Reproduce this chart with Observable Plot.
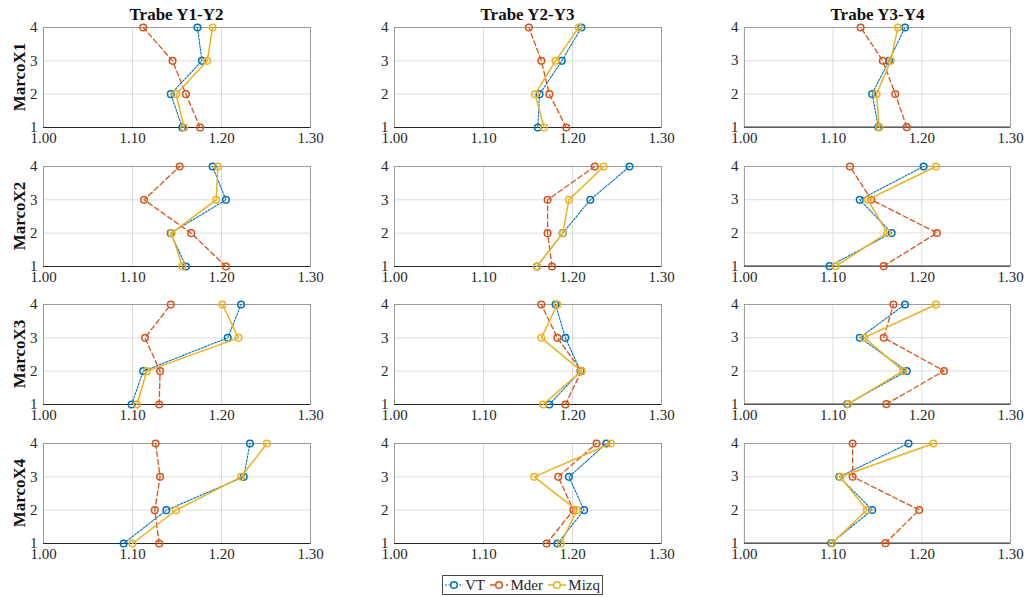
<!DOCTYPE html>
<html>
<head>
<meta charset="utf-8">
<script src="https://cdn.jsdelivr.net/npm/d3@7"></script>
<script src="https://cdn.jsdelivr.net/npm/@observablehq/plot@0.6"></script>
<style>
  html, body { margin: 0; padding: 0; background: #fff; }
  #root { position: relative; width: 1030px; height: 597px; font-family: "Liberation Serif", "Times New Roman", serif; color: #262626; }
  .panel { position: absolute; }
  .panel svg, .panel svg g, .panel svg text { font-family: "Liberation Serif", "Times New Roman", serif !important; font-size: 15px !important; }
  .title { position: absolute; font-weight: bold; font-size: 17px; color: #111; transform: translate(-50%, -50%); white-space: nowrap; }
  .rowlab { position: absolute; font-weight: bold; font-size: 17px; color: #111; transform: translate(-50%, -50%) rotate(-90deg); white-space: nowrap; }
  #legend { position: absolute; left: 442px; top: 575px; width: 161px; height: 20px; border: 1px solid #444; display: flex; align-items: center; justify-content: space-between; font-size: 15px; padding: 0 2px 0 1px; box-sizing: border-box; background: #fff; white-space: nowrap; font-family: "Liberation Serif", "Times New Roman", serif; }
  #legend .it { display: flex; align-items: center; }
  #legend svg { margin-right: 1px; }
</style>
</head>
<body>
<div id="root"></div>
<script>
// ---- data ----
const trabes = ["Trabe Y1-Y2", "Trabe Y2-Y3", "Trabe Y3-Y4"];
const marcos = ["MarcoX1", "MarcoX2", "MarcoX3", "MarcoX4"];
const niveles = [1, 2, 3, 4];
const seriesNames = ["VT", "Mder", "Mizq"];
const xTicks = [1.00, 1.10, 1.20, 1.30];
const yTicks = [1, 2, 3, 4];

// values per marco (rows) x trabe (cols), each listed for niveles 1..4
const VT = [
  [[1.156, 1.143, 1.178, 1.173], [1.161, 1.163, 1.188, 1.210], [1.151, 1.144, 1.163, 1.181]],
  [[1.160, 1.143, 1.205, 1.190], [1.160, 1.189, 1.220, 1.264], [1.096, 1.166, 1.130, 1.202]],
  [[1.099, 1.112, 1.207, 1.222], [1.174, 1.209, 1.192, 1.181], [1.116, 1.183, 1.130, 1.181]],
  [[1.090, 1.138, 1.225, 1.232], [1.183, 1.213, 1.196, 1.238], [1.098, 1.144, 1.107, 1.185]]
];
const Mder = [
  [[1.176, 1.160, 1.145, 1.112], [1.193, 1.174, 1.165, 1.151], [1.183, 1.170, 1.156, 1.131]],
  [[1.205, 1.166, 1.113, 1.153], [1.177, 1.172, 1.172, 1.225], [1.157, 1.217, 1.143, 1.119]],
  [[1.130, 1.131, 1.114, 1.143], [1.192, 1.210, 1.183, 1.165], [1.160, 1.225, 1.157, 1.168]],
  [[1.130, 1.125, 1.131, 1.126], [1.171, 1.201, 1.184, 1.227], [1.159, 1.197, 1.122, 1.122]]
];
const Mizq = [
  [[1.158, 1.149, 1.184, 1.190], [1.168, 1.158, 1.181, 1.207], [1.152, 1.149, 1.165, 1.173]],
  [[1.156, 1.144, 1.194, 1.196], [1.160, 1.189, 1.196, 1.235], [1.103, 1.161, 1.139, 1.216]],
  [[1.105, 1.116, 1.219, 1.201], [1.167, 1.210, 1.165, 1.183], [1.117, 1.179, 1.135, 1.216]],
  [[1.100, 1.149, 1.222, 1.251], [1.187, 1.205, 1.157, 1.243], [1.099, 1.138, 1.108, 1.213]]
];

// ---- styles ----
const colors = { VT: "#0072BD", Mder: "#D95319", Mizq: "#EDB120" };
const dashes = { VT: "2,1.5", Mder: "5,3", Mizq: null };
const widths = { VT: 1.1, Mder: 1.3, Mizq: 1.5 };
const seriesData = { VT, Mder, Mizq };

// layout
const frameLeft = [43, 394, 744];
const frameTop = [27, 166, 304, 443];
const frameW = 267, frameH = 100;
const mL = 32, mR = 20, mT = 10, mB = 26;

const root = document.getElementById("root");

function panel(r, c) {
  const marks = [
    Plot.gridX(xTicks.slice(1, 3), { stroke: "#dcdcdc", strokeOpacity: 1 }),
    Plot.gridY(yTicks.slice(1, 3), { stroke: "#dcdcdc", strokeOpacity: 1 }),
    Plot.frame({ stroke: "#9a9a9a" }),
    Plot.ruleY([1], { stroke: "#262626" }),
    Plot.axisX(xTicks, { tickFormat: d3.format(".2f"), tickSize: 0, tickPadding: 5, fontSize: 15, fill: "#262626" }),
    Plot.axisY(yTicks, { tickFormat: d3.format("d"), tickSize: 0, tickPadding: 6, fontSize: 15, fill: "#262626" })
  ];
  for (const s of seriesNames) {
    const vals = seriesData[s][r][c];
    const data = niveles.map((n, i) => ({ nivel: n, v: vals[i] }));
    marks.push(Plot.line(data, {
      x: "v", y: "nivel", stroke: colors[s], strokeWidth: widths[s],
      strokeDasharray: dashes[s] || undefined
    }));
    marks.push(Plot.dot(data, {
      x: "v", y: "nivel", r: 3.3, stroke: colors[s], strokeWidth: 1.5, fill: "none"
    }));
  }
  return Plot.plot({
    width: frameW + mL + mR,
    height: frameH + mT + mB,
    marginLeft: mL, marginRight: mR, marginTop: mT, marginBottom: mB,
    x: { domain: [1.0, 1.3], label: null },
    y: { domain: [1, 4], label: null },
    style: "font-family: 'Liberation Serif', 'Times New Roman', serif; font-size: 15px; color: #262626; background: transparent; overflow: visible;",
    marks
  });
}

for (let r = 0; r < marcos.length; r++) {
  for (let c = 0; c < trabes.length; c++) {
    const div = document.createElement("div");
    div.className = "panel";
    div.style.left = (frameLeft[c] - mL) + "px";
    div.style.top = (frameTop[r] - mT) + "px";
    div.appendChild(panel(r, c));
    root.appendChild(div);
  }
}

trabes.forEach((t, c) => {
  const d = document.createElement("div");
  d.className = "title";
  d.textContent = t;
  d.style.left = (frameLeft[c] + frameW / 2) + "px";
  d.style.top = "15px";
  root.appendChild(d);
});

marcos.forEach((m, r) => {
  const d = document.createElement("div");
  d.className = "rowlab";
  d.textContent = m;
  d.style.left = "20px";
  d.style.top = (frameTop[r] + frameH / 2) + "px";
  root.appendChild(d);
});

// legend
const legend = document.createElement("div");
legend.id = "legend";
for (const s of seriesNames) {
  const it = document.createElement("span");
  it.className = "it";
  const ns = "http://www.w3.org/2000/svg";
  const svg = document.createElementNS(ns, "svg");
  svg.setAttribute("width", "20");
  svg.setAttribute("height", "10");
  const ln = document.createElementNS(ns, "line");
  ln.setAttribute("x1", "1"); ln.setAttribute("x2", "19");
  ln.setAttribute("y1", "5"); ln.setAttribute("y2", "5");
  ln.setAttribute("stroke", colors[s]);
  ln.setAttribute("stroke-width", widths[s]);
  if (dashes[s]) ln.setAttribute("stroke-dasharray", dashes[s]);
  const ci = document.createElementNS(ns, "circle");
  ci.setAttribute("cx", "10"); ci.setAttribute("cy", "5"); ci.setAttribute("r", "3.3");
  ci.setAttribute("fill", "white"); ci.setAttribute("stroke", colors[s]); ci.setAttribute("stroke-width", "1.5");
  svg.appendChild(ln); svg.appendChild(ci);
  it.appendChild(svg);
  const tx = document.createElement("span");
  tx.textContent = s;
  it.appendChild(tx);
  legend.appendChild(it);
}
root.appendChild(legend);
</script>
</body>
</html>
